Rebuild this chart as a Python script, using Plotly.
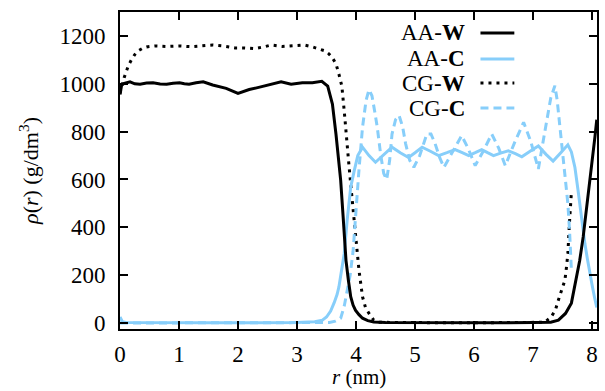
import plotly.graph_objects as go

# ---- data ----
r_aa_w = [0.0, 0.03, 0.1, 0.17, 0.25, 0.34, 0.45, 0.56, 0.68, 0.79, 0.9, 1.01, 1.09, 1.17, 1.29,
          1.41, 1.57, 1.8, 2.0, 2.19, 2.35, 2.48, 2.6, 2.73, 2.9, 3.09, 3.26, 3.42, 3.52, 3.6,
          3.66, 3.71, 3.74, 3.78, 3.83, 3.87, 3.91, 3.95, 3.99, 4.05, 4.11, 4.2, 4.3, 4.5, 5.0,
          5.5, 6.0, 6.5, 7.0, 7.3, 7.43, 7.55, 7.65, 7.72, 7.79, 7.85, 7.91, 7.96, 8.01, 8.05, 8.08]
rho_aa_w = [955, 998, 1003, 1008, 1000, 998, 1003, 1004, 999, 998, 1002, 1004, 1000, 998, 1004,
            1008, 995, 981, 960, 976, 985, 993, 1000, 1008, 998, 1004, 1004, 1010, 990, 915,
            790, 679, 596, 450, 262, 180, 110, 75, 54, 35, 20, 10, 4, 2, 1,
            1, 1, 1, 2, 3, 12, 40, 83, 170, 260, 360, 480, 600, 700, 780, 850]

r_aa_c = [0.0, 0.04, 0.1, 0.5, 1.0, 1.5, 2.0, 2.5, 3.0, 3.3, 3.43, 3.5, 3.57, 3.63, 3.68, 3.71,
          3.76, 3.8, 3.85, 3.91, 3.97, 4.03, 4.11, 4.22, 4.33, 4.47, 4.61, 4.75, 4.89, 5.0, 5.12,
          5.26, 5.4, 5.54, 5.68, 5.8, 5.91, 6.02, 6.13, 6.23, 6.33, 6.45, 6.58, 6.7, 6.81, 6.95,
          7.09, 7.22, 7.34, 7.47, 7.59, 7.65, 7.71, 7.76, 7.8, 7.85, 7.88, 7.92, 7.96, 8.0, 8.04,
          8.07, 8.08]
rho_aa_c = [25, 6, 2, 1, 1, 1, 1, 1, 2, 5, 12, 25, 50, 85, 120, 151,
            220, 290, 430, 568, 637, 700, 735, 700, 672, 705, 735, 712, 692, 712, 735,
            718, 700, 712, 725, 712, 700, 712, 725, 712, 700, 710, 720, 708, 695, 718,
            740, 705, 677, 712, 745, 715, 650, 560, 480, 380, 330, 270, 210, 160, 110,
            75, 65]

r_cg_w = [0.0, 0.03, 0.07, 0.11, 0.15, 0.2, 0.25, 0.31, 0.38, 0.45, 0.6, 0.8, 1.0, 1.2, 1.4,
          1.57, 1.75, 1.95, 2.1, 2.28, 2.45, 2.56, 2.75, 2.95, 3.12, 3.25, 3.38, 3.47, 3.54,
          3.59, 3.63, 3.67, 3.71, 3.76, 3.8, 3.85, 3.88, 3.92, 3.98, 4.05, 4.11, 4.16, 4.22,
          4.3, 4.4, 5.0, 5.5, 6.0, 6.5, 7.0, 7.2, 7.31, 7.38, 7.43, 7.49, 7.54, 7.57, 7.59,
          7.62, 7.65]
rho_cg_w = [960, 990, 1025, 1054, 1080, 1103, 1122, 1138, 1148, 1154, 1158, 1156, 1158, 1155, 1158,
            1162, 1158, 1150, 1150, 1147, 1155, 1162, 1156, 1158, 1162, 1155, 1145, 1138, 1125,
            1112, 1096, 1075, 1040, 990, 887, 762, 660, 554, 400, 221, 110, 65, 40,
            12, 3, 1, 1, 1, 1, 1, 3, 26, 55, 96, 140, 179, 240, 290,
            430, 547]

r_cg_c = [0.0, 0.5, 1.0, 1.5, 2.0, 2.5, 3.0, 3.4, 3.55, 3.65, 3.74, 3.8, 3.85, 3.9, 3.95, 4.0,
          4.05, 4.11, 4.17, 4.22, 4.27, 4.32, 4.36, 4.42, 4.47, 4.52, 4.57, 4.61, 4.67, 4.73,
          4.79, 4.84, 4.91, 4.98, 5.08, 5.2, 5.27, 5.34, 5.42, 5.49, 5.64, 5.79, 5.9, 6.02, 6.16,
          6.3, 6.42, 6.53, 6.68, 6.84, 6.96, 7.09, 7.2, 7.3, 7.37, 7.41, 7.45, 7.5, 7.54, 7.59,
          7.62, 7.65]
rho_cg_c = [0, 0, 0, 0, 0, 0, 0, 0, 2, 8, 20, 70, 130, 200, 300, 480,
            640, 818, 930, 975, 950, 880, 818, 700, 625, 600, 680, 790, 850, 867,
            820, 750, 680, 651, 700, 790, 790, 750, 690, 651, 720, 783, 730, 658, 720,
            790, 730, 658, 750, 839, 760, 644, 800, 940, 992, 930, 833, 720, 625, 500,
            380, 221]

x_ticks = [0, 1, 2, 3, 4, 5, 6, 7, 8]
y_ticks = [0, 200, 400, 600, 800, 1000, 1200]
legend_labels = ["AA-<b>W</b>", "AA-<b>C</b>", "CG-<b>W</b>", "CG-<b>C</b>"]
x_title = "<i>r</i> (nm)"
y_title = "<i>ρ</i>(<i>r</i>) (g/dm<sup>3</sup>)"

BLUE = "#87CEFA"
FONT = "Liberation Serif"

fig = go.Figure()
fig.add_trace(go.Scatter(x=r_cg_w, y=rho_cg_w, mode="lines", name=legend_labels[2],
                         line=dict(color="black", width=3, dash="3px,5px")))
fig.add_trace(go.Scatter(x=r_cg_c, y=rho_cg_c, mode="lines", name=legend_labels[3],
                         line=dict(color=BLUE, width=3, dash="8px,5px")))
fig.add_trace(go.Scatter(x=r_aa_c, y=rho_aa_c, mode="lines", name=legend_labels[1],
                         line=dict(color=BLUE, width=3)))
fig.add_trace(go.Scatter(x=r_aa_w, y=rho_aa_w, mode="lines", name=legend_labels[0],
                         line=dict(color="black", width=3)))

# custom legend (text on the left, sample on the right)
styles = [("black", "solid"), (BLUE, "solid"), ("black", "3px,5px"), (BLUE, "8px,5px")]
rows_y = [0.934, 0.852, 0.776, 0.697]
for lab, (col, dash), yy in zip(legend_labels, styles, rows_y):
    fig.add_annotation(x=0.7265, y=yy, xref="paper", yref="paper", text=lab, showarrow=False,
                       xanchor="right", yanchor="middle", font=dict(family=FONT, size=23, color="black"))
    fig.add_shape(type="line", xref="paper", yref="paper", x0=0.7557, x1=0.8267, y0=yy, y1=yy,
                  line=dict(color=col, width=3, dash=dash))

# axis titles as annotations for exact placement
fig.add_annotation(x=0.5, y=-0.151, xref="paper", yref="paper", text=x_title, showarrow=False,
                   xanchor="center", yanchor="middle", borderpad=0,
                   font=dict(family=FONT, size=21, color="black"))
fig.add_annotation(x=-0.192, y=0.5, xref="paper", yref="paper", text=y_title, showarrow=False,
                   textangle=-90, xanchor="center", yanchor="middle",
                   font=dict(family=FONT, size=22, color="black"))

axis_common = dict(showline=True, linecolor="black", linewidth=2, mirror="ticks",
                   ticks="inside", ticklen=8, tickwidth=1.5, tickcolor="black",
                   showgrid=False, zeroline=False,
                   tickfont=dict(family=FONT, size=23, color="black"))

fig.update_xaxes(range=[0, 8.084], tickvals=x_ticks, ticklabelstandoff=3, **axis_common)
fig.update_yaxes(range=[-25, 1300], tickvals=y_ticks, ticklabelstandoff=8, **axis_common)

fig.update_layout(width=605, height=391, margin=dict(l=120, r=6, t=12, b=62),
                  font=dict(family=FONT, size=23, color="black"),
                  plot_bgcolor="white", paper_bgcolor="white", showlegend=False)

fig.write_html("out.html")
